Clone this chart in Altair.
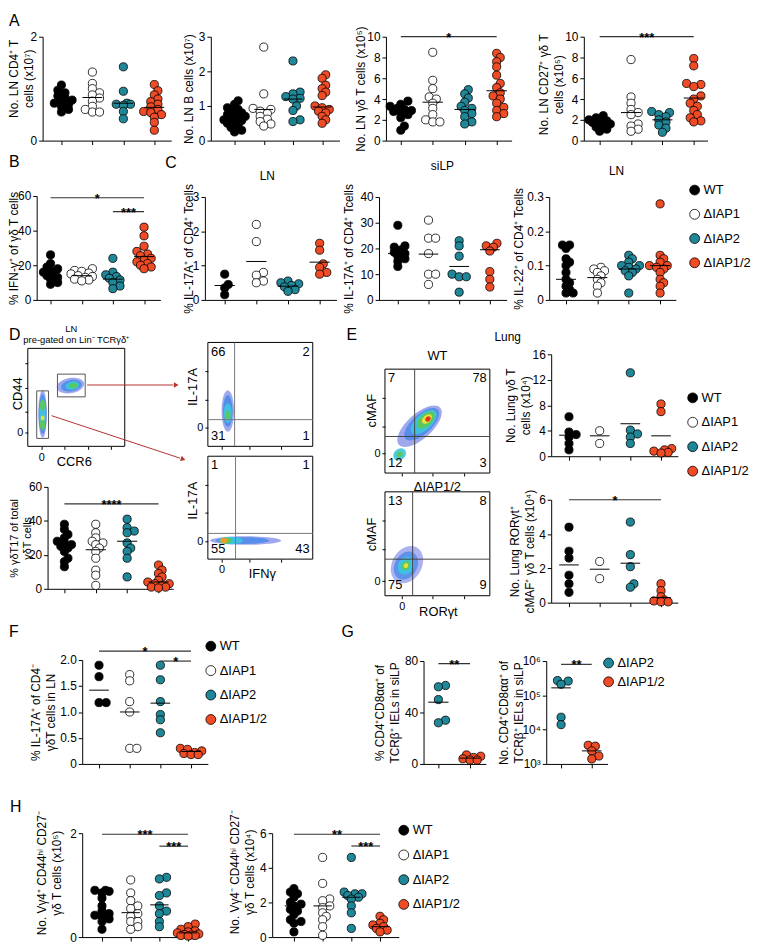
import math
import altair as alt
import pandas as pd

W, H = 755, 938
M = 8
FONT = "Liberation Sans"

GROUPS = ["WT", "ΔIAP1", "ΔIAP2", "ΔIAP1/2"]
FILLS = ["#000000", "#ffffff", "#1f8797", "#ef4b25"]

# ---------------- data ----------------
a1_cd4 = [
    [1.07, 0.97, 0.92, 0.86, 0.82, 0.78, 0.75, 0.72, 0.7, 0.66, 0.6, 0.55],
    [1.32, 1.1, 1.0, 0.92, 0.88, 0.82, 0.76, 0.66, 0.6, 0.55, 0.55],
    [1.42, 0.95, 0.72, 0.7, 0.7, 0.68, 0.56, 0.42],
    [1.08, 0.96, 0.88, 0.8, 0.75, 0.7, 0.65, 0.6, 0.56, 0.54, 0.5, 0.45, 0.35, 0.2],
]
a1_lines = [0.77, 0.83, 0.72, 0.64]

a2_b = [
    [1.15, 1.05, 0.95, 0.9, 0.85, 0.8, 0.75, 0.72, 0.7, 0.68, 0.65, 0.6, 0.58, 0.55, 0.5, 0.45, 0.38, 0.3, 0.25],
    [2.7, 1.35, 0.93, 0.9, 0.85, 0.78, 0.7, 0.62, 0.55, 0.48, 0.42],
    [2.3, 1.4, 1.35, 1.27, 1.22, 1.2, 1.0, 0.87, 0.6, 0.55],
    [1.9, 1.8, 1.6, 1.5, 1.4, 1.3, 1.0, 0.95, 0.9, 0.85, 0.8, 0.7, 0.6, 0.5],
]
a2_lines = [0.72, 0.9, 1.2, 0.97]

a3_gd = [
    [3.8, 3.5, 3.3, 3.1, 3.0, 2.9, 2.8, 2.7, 2.5, 2.2, 1.4, 1.0],
    [8.5, 5.8, 5.0, 4.2, 4.0, 3.6, 3.1, 2.5, 2.0, 1.8, 1.8],
    [4.9, 4.5, 4.1, 3.7, 3.3, 3.1, 2.9, 2.6, 2.3, 1.8, 1.6],
    [8.4, 8.0, 7.6, 7.1, 6.3, 5.5, 5.1, 4.6, 4.3, 4.0, 3.6, 3.2, 2.9, 2.6, 2.3],
]
a3_lines = [2.6, 3.7, 3.0, 4.8]

a4_cd27 = [
    [2.4, 2.2, 2.0, 1.9, 1.85, 1.75, 1.6, 1.5, 1.3, 1.1, 0.9],
    [7.8, 4.2, 3.6, 3.0, 2.7, 2.5, 1.6, 1.4, 1.1, 0.9],
    [2.8, 2.7, 2.5, 2.3, 2.0, 1.8, 1.5, 1.2, 0.8],
    [7.9, 7.2, 5.5, 5.4, 5.2, 4.3, 4.0, 3.6, 3.3, 2.9, 2.5, 2.2, 1.9, 1.8],
]
a4_lines = [1.6, 2.7, 2.0, 4.1]

b_ifng = [
    [26, 21, 19, 18, 17, 16, 15, 14, 13, 12, 10, 9],
    [18, 17, 16.5, 15.5, 15, 14, 13.5, 13, 12, 11.5, 11],
    [24, 16, 14.5, 13.5, 12.5, 11.5, 10, 8, 6.5],
    [42, 37, 31, 28, 26.5, 25.5, 24, 23, 22, 21, 20, 19, 18],
]
b_lines = [16, 14, 12, 25]

c1_il17_ln = [
    [0.75, 0.45, 0.35, 0.15],
    [2.2, 1.7, 0.8, 0.72, 0.55, 0.5],
    [0.55, 0.5, 0.47, 0.42, 0.38, 0.3, 0.25],
    [1.65, 1.45, 1.05, 0.95, 0.8, 0.75],
]
c1_lines = [0.42, 1.12, 0.4, 1.1]

c2_il17_silp = [
    [29, 21, 20.5, 19.5, 18.5, 18, 17, 16, 15, 13],
    [31, 24, 24, 18, 10, 10, 6],
    [23, 21, 17, 10, 9, 9, 3],
    [22, 21, 20.5, 19, 11, 8, 5],
]
c2_lines = [18, 17.8, 13, 19.5]

c3_il22_ln = [
    [0.16, 0.16, 0.15, 0.12, 0.11, 0.1, 0.08, 0.06, 0.05, 0.04, 0.03, 0.02, 0.02],
    [0.095, 0.09, 0.085, 0.08, 0.07, 0.06, 0.05, 0.04, 0.02],
    [0.13, 0.12, 0.11, 0.1, 0.1, 0.095, 0.09, 0.085, 0.08, 0.07, 0.02],
    [0.28, 0.13, 0.12, 0.11, 0.1, 0.1, 0.095, 0.09, 0.08, 0.06, 0.05, 0.04, 0.02],
]
c3_lines = [0.06, 0.065, 0.09, 0.1]

d_gdt17 = [
    [38, 35, 32, 30, 28, 27, 26, 25, 24, 22, 18, 16, 13],
    [38, 33, 30, 28, 27, 26, 24, 22, 18, 11, 8, 2],
    [41, 36, 34, 33, 27, 24, 22, 18, 7],
    [14, 11, 9, 7, 5, 4, 3, 3, 2, 1, 1, 0.5],
]
d_lines = [26, 23, 28, 4]

e1_lung = [
    [6.2, 3.8, 3.4, 3.0, 2.0, 1.0],
    [4.0, 2.0],
    [13.1, 4.1, 3.5, 3.0, 2.0],
    [8.2, 7.0, 1.2, 1.0, 0.8, 0.6, 0.5],
]
e1_lines = [3.3, 3.2, 5.1, 3.2]

e2_ror = [
    [4.4, 3.0, 2.6, 1.6, 1.1, 0.6],
    [2.4, 1.4],
    [4.7, 2.8, 2.1, 1.1, 0.9],
    [1.1, 0.7, 0.35, 0.15, 0.1, 0.05, 0.05],
]
e2_lines = [2.2, 1.95, 2.3, 0.3]

f_il17 = [
    [1.9, 1.68, 1.18, 1.18],
    [1.72, 1.6, 1.2, 1.0, 0.3, 0.3],
    [1.9, 1.62, 1.2, 0.95, 0.85, 0.6],
    [0.3, 0.28, 0.25, 0.22, 0.2, 0.18, 0.18],
]
f_lines = [1.42, 1.0, 1.17, 0.24]

g1_pct = [
    [61, 60, 50, 34, 32],
    [7, 6, 5, 4, 3, 3],
]
g1_lines = [48, 4.5]

g2_num = [
    [270000, 260000, 210000, 23000, 14000],
    [3500, 3300, 2400, 1700, 1400],
]
g2_lines = [165000, 2400]

h1_vg4p = [
    [0.9, 0.9, 0.88, 0.85, 0.75, 0.6, 0.5, 0.45, 0.42, 0.4, 0.35, 0.3, 0.15],
    [1.1, 0.85, 0.7, 0.6, 0.55, 0.45, 0.4, 0.3, 0.3, 0.2, 0.15],
    [1.15, 1.12, 0.85, 0.8, 0.6, 0.5, 0.45, 0.3, 0.2],
    [0.25, 0.2, 0.15, 0.12, 0.1, 0.08, 0.06, 0.05, 0.04, 0.03, 0.03, 0.02],
]
h1_lines = [0.47, 0.47, 0.62, 0.08]

h2_vg4n = [
    [2.8, 2.6, 2.5, 2.3, 2.0, 1.9, 1.8, 1.6, 1.5, 1.3, 1.0, 0.9, 0.8, 0.3],
    [4.6, 3.1, 2.2, 2.1, 1.8, 1.7, 1.4, 1.2, 1.0, 0.6, 0.1],
    [4.6, 2.6, 2.5, 2.5, 2.4, 2.3, 2.2, 1.8, 1.4, 0.5],
    [1.2, 1.0, 0.8, 0.7, 0.6, 0.5, 0.4, 0.3],
]
h2_lines = [1.8, 1.8, 2.3, 0.6]

# flow quadrant percentages (TL, TR, BL, BR)
flow_d_top = ["66", "2", "31", "1"]
flow_d_bottom = ["1", "1", "55", "43"]
flow_e_wt = ["7", "78", "12", "3"]
flow_e_dko = ["13", "8", "75", "9"]


# ---------------- helpers ----------------
def gx(p):
    return p - M


def gy(p):
    return p - M


def swarm(vals, ppu, log=False, d=8.0):
    ys = [(math.log10(v) if log else v) * ppu for v in vals]
    idx = sorted(range(len(vals)), key=lambda i: ys[i])
    s = d * 0.45
    cands = [0.0, s, -s, 2 * s, -2 * s, 3 * s, -3 * s]
    placed = []
    off = [0.0] * len(vals)
    for i in idx:
        best, best_d = 0.0, -1.0
        for c in cands:
            md = min([math.hypot(c - px, ys[i] - py) for px, py in placed] or [99.0])
            if md >= 0.62 * d:
                best = c
                break
            if md > best_d + 0.5:
                best, best_d = c, md
        placed.append((best, ys[i]))
        off[i] = best
    return off


def strip(values, lines, groups, axis_x, c0, step, axis_end, y_top, y_bot, dom, ticks,
          title, title_left, sig=(), log=False, label_expr=None, title_size=12, title_lh=15,
          title_y=None):
    if log:
        ppu = (y_bot - y_top) / (math.log10(dom[1]) - math.log10(dom[0]))
    else:
        ppu = (y_bot - y_top) / (dom[1] - dom[0])
    rows = []
    for k, (g, vals) in enumerate(zip(groups, values)):
        offs = swarm(vals, ppu, log)
        for v, o in zip(vals, offs):
            rows.append({"x": k + o / step, "v": v, "fill": FILLS[g]})
    df = pd.DataFrame(rows)
    n = len(groups)
    xs = alt.Scale(domain=[(axis_x - c0) / step, (axis_end - c0) / step],
                   range=[gx(axis_x), gx(axis_end)], nice=False, zero=False)
    if log:
        ys = alt.Scale(type="log", domain=list(dom), range=[gy(y_bot), gy(y_top)], nice=False)
    else:
        ys = alt.Scale(domain=list(dom), range=[gy(y_bot), gy(y_top)], nice=False, zero=False)
    left = max(title_left, 10)
    ax_kw = dict(orient="left", offset=-gx(axis_x), values=list(ticks), title=title, grid=False,
                 titleX=(left - 1) - axis_x, titleBaseline="top", titleAngle=270,
                 titleFontSize=title_size, titleLineHeight=title_lh)
    if title_y is not None:
        ax_kw["titleY"] = gy(title_y)
    if label_expr:
        ax_kw["labelExpr"] = label_expr
    else:
        ax_kw["format"] = "d"
    yaxis = alt.Axis(**ax_kw)
    xaxis = alt.Axis(orient="bottom", offset=gy(y_bot) - H, values=list(range(n)),
                     labels=False, title=None, grid=False)
    pts = alt.Chart(df).mark_circle(size=68, opacity=1, stroke="black", strokeWidth=0.8).encode(
        x=alt.X("x:Q", scale=xs, axis=xaxis),
        y=alt.Y("v:Q", scale=ys, axis=yaxis),
        fill=alt.Fill("fill:N", scale=None),
    )
    mdf = pd.DataFrame({"x": [k - 0.32 for k in range(n)], "x2": [k + 0.32 for k in range(n)],
                        "v": lines})
    means = alt.Chart(mdf).mark_rule(color="black", strokeWidth=1).encode(
        x=alt.X("x:Q", scale=xs, axis=None), x2="x2:Q",
        y=alt.Y("v:Q", scale=ys, axis=None))
    out = [pts, means]
    if sig:
        sdf = pd.DataFrame([{"x": a, "x2": b, "xm": (a + b) / 2, "v": v, "t": t} for a, b, v, t in sig])
        bars = alt.Chart(sdf).mark_rule(color="#333333", strokeWidth=1.2).encode(
            x=alt.X("x:Q", scale=xs, axis=None), x2="x2:Q",
            y=alt.Y("v:Q", scale=ys, axis=None))
        stars = alt.Chart(sdf).mark_text(font=FONT, fontSize=13, fontWeight="bold",
                                         baseline="alphabetic", dy=5, color="black").encode(
            x=alt.X("xm:Q", scale=xs, axis=None),
            y=alt.Y("v:Q", scale=ys, axis=None), text="t:N")
        out += [bars, stars]
    return out


def ell(a):
    return f"M-1,0A1,{a},0,1,1,1,0A1,{a},0,1,1,-1,0Z"


def flow(box, q, nums, blobs, yzero, xzero, yticks, xticks, qcolor="#777777", gates=()):
    x0, y0, x1, y1 = box
    xs = alt.Scale(domain=[0, 1], range=[gx(x0), gx(x1)], nice=False, zero=False)
    ys = alt.Scale(domain=[0, 1], range=[gy(y1), gy(y0)], nice=False, zero=False)

    def lab(z):
        if z is None:
            return "''"
        return f"abs(datum.value - {z}) < 0.001 ? '0' : ''"

    yaxis = alt.Axis(orient="left", offset=-gx(x0), values=list(yticks), labelExpr=lab(yzero),
                     title=None, domain=False, grid=False, tickSize=3, labelFontSize=11)
    xaxis = alt.Axis(orient="bottom", offset=gy(y1) - H, values=list(xticks), labelExpr=lab(xzero),
                     title=None, domain=False, grid=False, tickSize=3, labelFontSize=11)
    fdf = pd.DataFrame({"x": [0.0], "x2": [1.0], "y": [0.0], "y2": [1.0]})
    frame = alt.Chart(fdf).mark_rect(fill="white", fillOpacity=0, stroke="black", strokeWidth=1).encode(
        x=alt.X("x:Q", scale=xs, axis=xaxis), x2="x2:Q",
        y=alt.Y("y:Q", scale=ys, axis=yaxis), y2="y2:Q")
    bdf = pd.DataFrame([{"x": fx, "y": fy, "shape": ell(a), "size": w * w, "angle": ang, "c": c, "op": op}
                        for fx, fy, w, a, ang, c, op in blobs])
    blob = alt.Chart(bdf).mark_point(filled=True, strokeWidth=0).encode(
        x=alt.X("x:Q", scale=xs, axis=None), y=alt.Y("y:Q", scale=ys, axis=None),
        shape=alt.Shape("shape:N", scale=None), size=alt.Size("size:Q", scale=None),
        angle=alt.Angle("angle:Q", scale=None), fill=alt.Fill("c:N", scale=None),
        opacity=alt.Opacity("op:Q", scale=None))
    out = [frame, blob]
    if q is not None:
        qdf = pd.DataFrame({"x": [q[0], 0.0], "x2": [q[0], 1.0], "y": [0.0, q[1]], "y2": [1.0, q[1]]})
        out.append(alt.Chart(qdf).mark_rule(color=qcolor, strokeWidth=1).encode(
            x=alt.X("x:Q", scale=xs, axis=None), x2="x2:Q",
            y=alt.Y("y:Q", scale=ys, axis=None), y2="y2:Q"))
    if gates:
        gdf = pd.DataFrame([{"x": a, "x2": b, "y": c, "y2": d} for a, b, c, d in gates])
        out.append(alt.Chart(gdf).mark_rect(fill="white", fillOpacity=0, stroke="#555555",
                                            strokeWidth=1).encode(
            x=alt.X("x:Q", scale=xs, axis=None), x2="x2:Q",
            y=alt.Y("y:Q", scale=ys, axis=None), y2="y2:Q"))
    if nums:
        ldf = pd.DataFrame({"x": [0.03, 0.03], "y": [0.91, 0.1], "t": [nums[0], nums[2]]})
        rdf = pd.DataFrame({"x": [0.97, 0.97], "y": [0.91, 0.1], "t": [nums[1], nums[3]]})
        out.append(alt.Chart(ldf).mark_text(font=FONT, fontSize=13, align="left", baseline="middle",
                                            color="black").encode(
            x=alt.X("x:Q", scale=xs, axis=None), y=alt.Y("y:Q", scale=ys, axis=None), text="t:N"))
        out.append(alt.Chart(rdf).mark_text(font=FONT, fontSize=13, align="right", baseline="middle",
                                            color="black").encode(
            x=alt.X("x:Q", scale=xs, axis=None), y=alt.Y("y:Q", scale=ys, axis=None), text="t:N"))
    return out


def ann(rows, size, angle=0, align="center", weight="normal"):
    df = pd.DataFrame([{"t": t, "px": gx(x), "py": gy(y)} for t, x, y in rows])
    return alt.Chart(df).mark_text(font=FONT, fontSize=size, angle=angle, align=align,
                                   baseline="middle", fontWeight=weight, color="black").encode(
        x=alt.X("px:Q", scale=None), y=alt.Y("py:Q", scale=None), text="t:N")


def legend(gidx, px, py0, dy):
    df = pd.DataFrame([{"x": gx(px), "y": gy(py0 + k * dy), "fill": FILLS[g], "label": GROUPS[g]}
                       for k, g in enumerate(gidx)])
    circ = alt.Chart(df).mark_circle(size=100, opacity=1, stroke="black", strokeWidth=0.8).encode(
        x=alt.X("x:Q", scale=None), y=alt.Y("y:Q", scale=None), fill=alt.Fill("fill:N", scale=None))
    txt = alt.Chart(df).mark_text(font=FONT, fontSize=13, align="left", baseline="middle", dx=9,
                                  color="black").encode(
        x=alt.X("x:Q", scale=None), y=alt.Y("y:Q", scale=None), text="label:N")
    return [circ, txt]


ALL4 = [0, 1, 2, 3]
DEC1 = "datum.value == 0 ? '0' : format(datum.value, '.1f')"
LOGEXPR = ("'10' + (datum.value < 5000 ? '³' : datum.value < 50000 ? '⁴' : "
           "datum.value < 500000 ? '⁵' : '⁶')")

layers = []
# ---- row A
layers += strip(a1_cd4, a1_lines, ALL4, 43, 62, 31.3, 173, 32, 137, (0, 2), [0, 1, 2],
                ["No. LN CD4⁺ T", "cells (x10⁷)"], 6, title_y=74)
layers += strip(a2_b, a2_lines, ALL4, 213, 237, 29.5, 343, 32, 137, (0, 3), [0, 1, 2, 3],
                "No. LN B cells (x10⁷)", 186)
layers += strip(a3_gd, a3_lines, ALL4, 390, 405, 32.3, 517, 32, 137, (0, 10), [0, 2, 4, 6, 8, 10],
                "No. LN γδ T cells (x10⁵)", 360, sig=[(0, 3, 10.0, "*")])
layers += strip(a4_cd27, a4_lines, ALL4, 590, 606, 31.7, 715, 32, 137, (0, 10), [0, 2, 4, 6, 8, 10],
                ["No. LN CD27⁺ γδ T", "cells (x10⁵)"], 545, sig=[(0, 3, 10.0, "***")], title_y=80)
# ---- row B / C
layers += strip(b_ifng, b_lines, ALL4, 37, 51, 31.5, 162, 193, 298, (0, 60), [0, 20, 40, 60],
                "% IFN-γ⁺ of γδ T cells", 6, sig=[(0, 3, 59, "*"), (2, 3, 51, "***")])
layers += strip(c1_il17_ln, c1_lines, ALL4, 207, 227, 32, 340, 194, 298, (0, 3), [0, 1, 2, 3],
                "% IL-17A⁺ of CD4⁺ Tcells", 186)
layers += strip(c2_il17_silp, c2_lines, ALL4, 383, 402, 31, 512, 194, 298, (0, 40), [0, 10, 20, 30, 40],
                "% IL-17A⁺ of CD4⁺ Tcells", 348)
layers += strip(c3_il22_ln, c3_lines, ALL4, 555, 572, 31.7, 683, 194, 298, (0, 0.3), [0, 0.1, 0.2, 0.3],
                "% IL-22⁺ of CD4⁺ Tcells", 520, label_expr=DEC1)
# ---- D strip
layers += strip(d_gdt17, d_lines, ALL4, 48, 65, 31.7, 175, 487, 590, (0, 60), [0, 20, 40, 60],
                ["% γδT17 of total", "γδT cells"], 6, sig=[(0, 3, 50, "****")], title_size=11,
                title_lh=13)
# ---- E strips
layers += strip(e1_lung, e1_lines, ALL4, 557, 575, 31, 685, 353, 456, (0, 16), [0, 4, 8, 12, 16],
                ["No. Lung γδ T", "cells (x10⁴)"], 512)
layers += strip(e2_ror, e2_lines, ALL4, 557, 575, 31, 685, 500, 604, (0, 6), [0, 2, 4, 6],
                ["No. Lung RORγt⁺", "cMAF⁺ γδ T cells (x10⁴)"], 516, sig=[(0, 3, 6, "*")])
# ---- F
layers += strip(f_il17, f_lines, ALL4, 83, 100, 31, 210, 662, 767, (0, 2), [0, 0.5, 1, 1.5, 2],
                ["% IL-17A⁺ of CD4⁻", "γδT cells in LN"], 32,
                sig=[(0, 3, 2.17, "*"), (2, 3, 1.98, "*")], label_expr=DEC1)
# ---- G
layers += strip(g1_pct, g1_lines, [2, 3], 428, 443, 32, 491, 663, 767, (0, 80), [0, 40, 80],
                ["% CD4⁺CD8αα⁺ of", "TCRβ⁺ IELs in siLP"], 380, sig=[(0, 1, 78, "**")])
layers += strip(g2_num, g2_lines, [2, 3], 552, 567, 31, 614, 663, 767, (1000, 1000000),
                [1000, 10000, 100000, 1000000], ["No. CD4⁺CD8αα⁺ of", "TCRβ⁺ IELs in siLP"], 505,
                sig=[(0, 1, 800000, "**")], log=True, label_expr=LOGEXPR)
# ---- H
layers += strip(h1_vg4p, h1_lines, ALL4, 83, 103, 29, 200, 837, 942, (0, 2), [0, 1, 2],
                ["No. Vγ4⁺ CD44ʰⁱ CD27⁻", "γδ T cells (x10⁵)"], 38,
                sig=[(0, 3, 1.98, "***"), (2, 3, 1.75, "***")], title_y=877)
layers += strip(h2_vg4n, h2_lines, ALL4, 275, 297, 29, 403, 837, 942, (0, 6), [0, 2, 4, 6],
                ["No. Vγ4⁻ CD44ʰⁱ CD27⁻", "γδ T cells (x10⁴)"], 233,
                sig=[(0, 3, 5.94, "**"), (2, 3, 5.26, "***")], title_y=876)

# ---- flow plots
BLUE, LBLUE, CYAN, GREEN, YELLOW, ORANGE, RED = ("#2c3fd6", "#3f86e8", "#3cc6e0", "#5cc85a",
                                                  "#e6e23c", "#f29a2e", "#e0321e")
layers += flow((28, 347, 126, 446), None, None, [
    (0.44, 0.62, 28, 0.55, 350, BLUE, 0.45),
    (0.45, 0.62, 21, 0.55, 350, LBLUE, 0.75),
    (0.46, 0.62, 14, 0.6, 350, CYAN, 0.9),
    (0.47, 0.62, 8, 0.7, 350, GREEN, 0.95),
    (0.153, 0.33, 48, 0.18, 90, BLUE, 0.45),
    (0.153, 0.33, 40, 0.2, 90, LBLUE, 0.75),
    (0.153, 0.33, 30, 0.22, 90, CYAN, 0.9),
    (0.153, 0.42, 11, 0.5, 90, GREEN, 0.95),
    (0.153, 0.22, 11, 0.5, 90, GREEN, 0.95),
    (0.153, 0.29, 5, 0.8, 90, YELLOW, 0.95),
], yzero=0.14, xzero=0.14, yticks=[0.14, 0.35, 0.6, 0.85], xticks=[0.14, 0.38, 0.62, 0.86],
    gates=[(0.306, 0.592, 0.505, 0.737), (0.092, 0.214, 0.081, 0.566)])
layers += flow((210, 341, 316, 446), (0.255, 0.257), flow_d_top, [
    (0.19, 0.34, 42, 0.3, 90, BLUE, 0.45),
    (0.19, 0.34, 32, 0.3, 90, LBLUE, 0.8),
    (0.19, 0.32, 20, 0.4, 90, CYAN, 0.9),
    (0.19, 0.3, 9, 0.6, 90, GREEN, 0.95),
], yzero=0.18, xzero=None, yticks=[0.18, 0.45, 0.72], xticks=[0.13, 0.4, 0.7])
layers += flow((210, 456, 316, 560), (0.264, 0.25), flow_d_bottom, [
    (0.36, 0.18, 72, 0.12, 0, BLUE, 0.45),
    (0.33, 0.18, 54, 0.13, 0, LBLUE, 0.75),
    (0.22, 0.18, 24, 0.3, 0, CYAN, 0.9),
    (0.17, 0.18, 13, 0.5, 0, GREEN, 0.95),
    (0.155, 0.18, 7, 0.8, 0, ORANGE, 1),
], yzero=0.17, xzero=0.13, yticks=[0.17, 0.45, 0.72], xticks=[0.13, 0.4, 0.7])
layers += flow((389, 368, 495, 473), (0.283, 0.352), flow_e_wt, [
    (0.33, 0.45, 56, 0.45, 318, BLUE, 0.45),
    (0.35, 0.47, 44, 0.45, 318, LBLUE, 0.75),
    (0.37, 0.49, 32, 0.5, 318, CYAN, 0.9),
    (0.39, 0.51, 22, 0.55, 318, GREEN, 0.95),
    (0.4, 0.52, 12, 0.6, 318, YELLOW, 1),
    (0.41, 0.52, 6, 0.8, 318, RED, 1),
    (0.14, 0.18, 14, 0.8, 318, CYAN, 0.9),
    (0.14, 0.18, 7, 0.8, 318, GREEN, 0.95),
], yzero=0.19, xzero=None, yticks=[0.19, 0.45, 0.72], xticks=[0.16, 0.45, 0.75], qcolor="#444444")
layers += flow((389, 492, 495, 597), (0.264, 0.352), flow_e_dko, [
    (0.21, 0.3, 40, 0.75, 300, BLUE, 0.4),
    (0.2, 0.29, 30, 0.75, 300, LBLUE, 0.7),
    (0.2, 0.29, 19, 0.8, 300, CYAN, 0.9),
    (0.2, 0.29, 10, 0.8, 300, GREEN, 0.95),
    (0.2, 0.29, 5, 0.9, 300, YELLOW, 1),
], yzero=0.14, xzero=0.16, yticks=[0.14, 0.45, 0.72], xticks=[0.16, 0.45, 0.75], qcolor="#444444")

# ---- arrows (D)
arrow_df = pd.DataFrame({"x": [gx(88), gx(52)], "y": [gy(384), gy(415)],
                         "x2": [gx(175), gx(182)], "y2": [gy(384), gy(458)]})
layers.append(alt.Chart(arrow_df).mark_rule(color="#b5322e", strokeWidth=1).encode(
    x=alt.X("x:Q", scale=None), y=alt.Y("y:Q", scale=None),
    x2=alt.X2("x2:Q"), y2=alt.Y2("y2:Q")))
head_df = pd.DataFrame({"x": [gx(178), gx(185)], "y": [gy(384), gy(459)], "ang": [0, 18.6]})
layers.append(alt.Chart(head_df).mark_point(shape="triangle-right", filled=True, size=30,
                                            color="#b5322e", opacity=1).encode(
    x=alt.X("x:Q", scale=None), y=alt.Y("y:Q", scale=None), angle=alt.Angle("ang:Q", scale=None)))

# ---- legends
layers += legend(ALL4, 702, 187, 24.5)
layers += legend(ALL4, 700, 397, 24.7)
layers += legend(ALL4, 213, 648, 24.7)
layers += legend([2, 3], 615, 665, 19)
layers += legend(ALL4, 408, 834, 25)

# ---- annotations
layers.append(ann([("A", 9, 16), ("B", 9, 159), ("C", 167, 160), ("D", 9, 334),
                   ("E", 350, 334), ("F", 9, 634), ("G", 345, 634), ("H", 10, 811)], 16, align="left"))
layers.append(ann([("LN", 270, 173), ("siLP", 447, 163), ("LN", 623, 168), ("Lung", 513, 336)], 12))
layers.append(ann([("WT", 442, 355), ("ΔIAP1/2", 442, 487), ("CCR6", 75, 462), ("IFNγ", 265, 575),
                   ("RORγt", 443, 613)], 13))
layers.append(ann([("LN", 72, 327), ("pre-gated on Lin⁻ TCRγδ⁺", 77, 339)], 9.5))
layers.append(ann([("CD44", 18, 393), ("IL-17A", 195, 386), ("IL-17A", 195, 501),
                   ("cMAF", 376, 410), ("cMAF", 376, 535)], 13, angle=270))

chart = alt.layer(*layers).resolve_scale(
    x="independent", y="independent"
).properties(
    width=W, height=H, padding=0, autosize=alt.AutoSizeParams(type="none")
).configure_view(stroke=None).configure_axis(
    labelFont=FONT, titleFont=FONT, labelFontSize=12, titleFontSize=12, titleFontWeight="normal",
    labelColor="black", titleColor="black", domainColor="black", tickColor="black",
    tickSize=4, labelPadding=2, titlePadding=2, grid=False
)

chart.save("out.html", embed_options={"renderer": "svg", "actions": False})
